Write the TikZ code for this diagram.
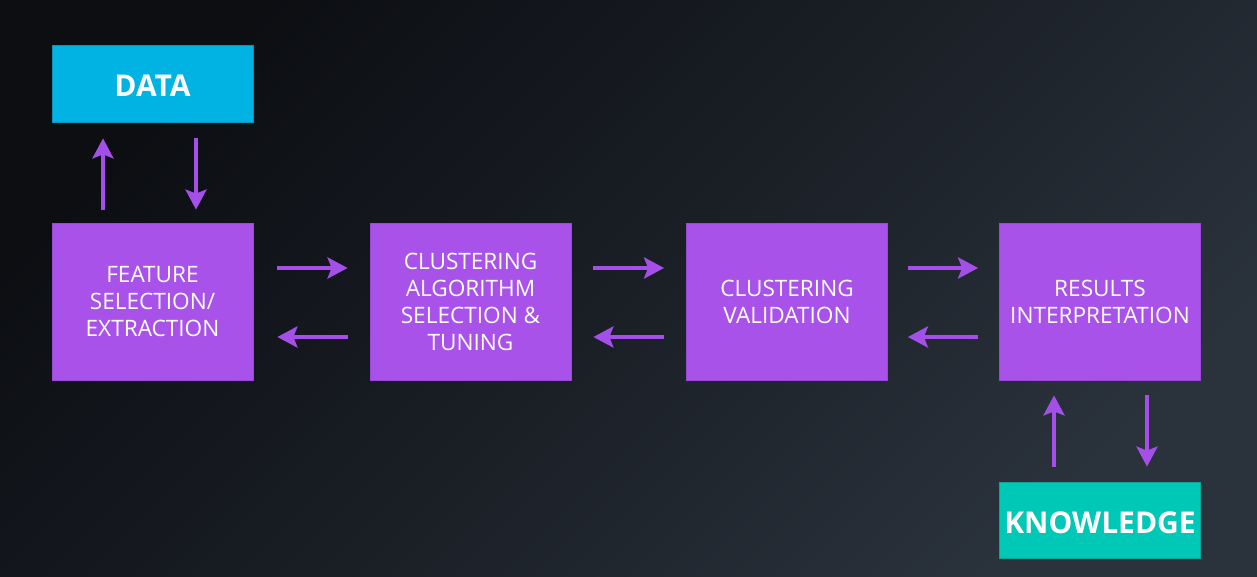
\documentclass[tikz,border=0pt]{standalone}
\usepackage{fontspec}
\setmainfont{Open Sans}
\usetikzlibrary{arrows.meta,calc}
\definecolor{bgA}{HTML}{0C0E12}
\definecolor{bgM}{HTML}{1A1F26}
\definecolor{bgB}{HTML}{2A323C}
\definecolor{purp}{HTML}{A852EA}
\definecolor{purpd}{HTML}{9A48D8}
\definecolor{arrc}{HTML}{A450E8}
\definecolor{cyanbox}{HTML}{00B3E3}
\definecolor{cyand}{HTML}{0A93BF}
\definecolor{tealbox}{HTML}{00C8B6}
\definecolor{teald}{HTML}{0AA596}
\begin{document}
\begin{tikzpicture}[x=1pt,y=-1pt,
  box/.style={minimum width=201pt, minimum height=157pt, fill=purp, draw=purpd, line width=0.8pt,
    text=white, align=center, font=\fontsize{22.6}{27}\selectfont, inner sep=0pt},
  endbox/.style={minimum width=201pt, minimum height=77pt, line width=0.8pt,
    text=white, align=center, font=\fontsize{30}{32}\selectfont\bfseries, inner sep=0pt,
    text height=26pt, text depth=0pt},
  arr/.style={draw=arrc, line width=4pt, -{Stealth[length=20pt,width=21pt,inset=4pt]}}]
\useasboundingbox (0,0) rectangle (1257,577);
\shade[left color=bgA, right color=bgB, middle color=bgM, shading angle=45] (0,0) rectangle (1257,577);
\node[endbox, fill=cyanbox, draw=cyand] (data) at (152.5,83.5) {DATA};
\node[box] (fe) at (152.5,301.5) {FEATURE\\SELECTION/\\EXTRACTION};
\node[box] (ca) at (470.5,301.5) {CLUSTERING\\ALGORITHM\\SELECTION \&\\TUNING};
\node[box] (cv) at (787,301.5) {CLUSTERING\\VALIDATION};
\node[box] (ri) at (1100,301.5) {RESULTS\\INTERPRETATION};
\node[endbox, fill=tealbox, draw=teald, minimum height=76pt] (kn) at (1100,520) {KNOWLEDGE};
% data <-> feature
\draw[arr] ([xshift=-49.5pt,yshift=13pt]fe.north) -- ([xshift=-49.5pt,yshift=-16pt]data.south);
\draw[arr] ([xshift=43.5pt,yshift=-16pt]data.south) -- ([xshift=43.5pt,yshift=13pt]fe.north);
% horizontal
\draw[arr] ([xshift=24pt,yshift=33.5pt]fe.east) -- ([xshift=-22pt,yshift=33.5pt]ca.west);
\draw[arr] ([xshift=-22pt,yshift=-35.5pt]ca.west) -- ([xshift=24pt,yshift=-35.5pt]fe.east);
\draw[arr] ([xshift=22pt,yshift=33.5pt]ca.east) -- ([xshift=-22pt,yshift=33.5pt]cv.west);
\draw[arr] ([xshift=-22pt,yshift=-35.5pt]cv.west) -- ([xshift=22pt,yshift=-35.5pt]ca.east);
\draw[arr] ([xshift=20pt,yshift=33.5pt]cv.east) -- ([xshift=-21pt,yshift=33.5pt]ri.west);
\draw[arr] ([xshift=-21pt,yshift=-35.5pt]ri.west) -- ([xshift=20pt,yshift=-35.5pt]cv.east);
% results <-> knowledge
\draw[arr] ([xshift=-46pt,yshift=15pt]kn.north) -- ([xshift=-46pt,yshift=-15pt]ri.south);
\draw[arr] ([xshift=47pt,yshift=-15pt]ri.south) -- ([xshift=47pt,yshift=15pt]kn.north);
\end{tikzpicture}
\end{document}
